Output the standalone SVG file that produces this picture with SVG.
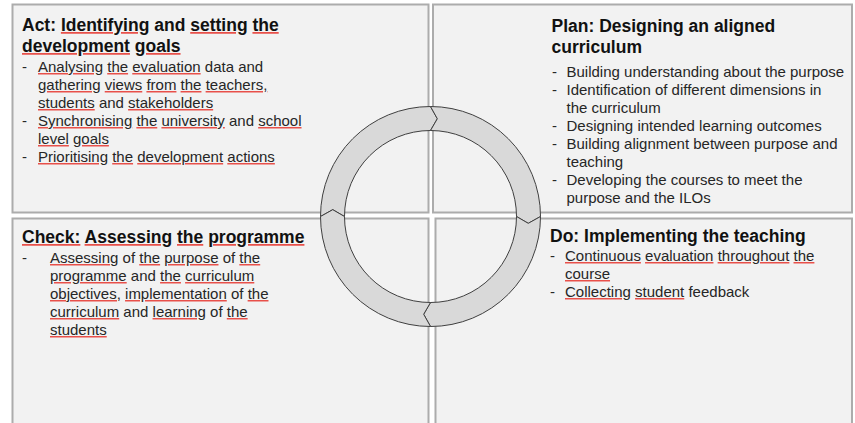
<svg xmlns="http://www.w3.org/2000/svg" width="855" height="423" viewBox="0 0 855 423">
<style>
.box{fill:#f2f2f2;stroke:#acacac;stroke-width:2}
.t{font-family:"Liberation Sans",Arial,sans-serif;font-size:17.5px;font-weight:bold;fill:#111}
.b{font-family:"Liberation Sans",Arial,sans-serif;font-size:15px;fill:#262626}
.s{fill:#e8504a;text-decoration:underline}
.b .s>tspan{fill:#262626}
.t .s>tspan{fill:#111}
.seg{fill:#d9d9d9;stroke:#404040;stroke-width:1;stroke-linejoin:miter}
</style>
<defs>
<path id="arc" d="M-110,0 A110,110 0 0 1 0,-110 L6.84,-97.76 L0,-86 A86,86 0 0 0 -86,0 L-97.76,-6.84 Z"/>
</defs>
<rect width="855" height="423" fill="#ffffff"/>
<g id="act">
<rect class="box" x="12.5" y="4.5" width="416" height="208"/>
<text class="t" x="22" y="31">Act: <tspan class="s"><tspan>Identifying</tspan></tspan> and <tspan class="s"><tspan>setting</tspan></tspan> <tspan class="s"><tspan>the</tspan></tspan></text>
<text class="t" x="22" y="52"><tspan class="s"><tspan>development</tspan></tspan> <tspan class="s"><tspan>goals</tspan></tspan></text>
<text class="b" x="22" y="72">-</text>
<text class="b" x="38" y="72"><tspan class="s"><tspan>Analysing</tspan></tspan> <tspan class="s"><tspan>the</tspan></tspan> <tspan class="s"><tspan>evaluation</tspan></tspan> data and</text>
<text class="b" x="38" y="90"><tspan class="s"><tspan>gathering</tspan></tspan> <tspan class="s"><tspan>views</tspan></tspan> <tspan class="s"><tspan>from</tspan></tspan> <tspan class="s"><tspan>the</tspan></tspan> <tspan class="s"><tspan>teachers,</tspan></tspan></text>
<text class="b" x="38" y="108"><tspan class="s"><tspan>students</tspan></tspan> and <tspan class="s"><tspan>stakeholders</tspan></tspan></text>
<text class="b" x="22" y="126">-</text>
<text class="b" x="38" y="126"><tspan class="s"><tspan>Synchronising</tspan></tspan> <tspan class="s"><tspan>the</tspan></tspan> <tspan class="s"><tspan>university</tspan></tspan> and <tspan class="s"><tspan>school</tspan></tspan></text>
<text class="b" x="38" y="144"><tspan class="s"><tspan>level</tspan></tspan> <tspan class="s"><tspan>goals</tspan></tspan></text>
<text class="b" x="22" y="162">-</text>
<text class="b" x="38" y="162"><tspan class="s"><tspan>Prioritising</tspan></tspan> <tspan class="s"><tspan>the</tspan></tspan> <tspan class="s"><tspan>development</tspan></tspan> <tspan class="s"><tspan>actions</tspan></tspan></text>
</g>
<g id="plan">
<rect class="box" x="433" y="4.5" width="419" height="208"/>
<text class="t" x="551.5" y="31.5">Plan: Designing an aligned</text>
<text class="t" x="551.5" y="53">curriculum</text>
<text class="b" x="552" y="76.5">-</text>
<text class="b" x="566.5" y="76.5">Building understanding about the purpose</text>
<text class="b" x="552" y="94.5">-</text>
<text class="b" x="566.5" y="94.5">Identification of different dimensions in</text>
<text class="b" x="566.5" y="112.5">the curriculum</text>
<text class="b" x="552" y="130.5">-</text>
<text class="b" x="566.5" y="130.5">Designing intended learning outcomes</text>
<text class="b" x="552" y="148.5">-</text>
<text class="b" x="566.5" y="148.5">Building alignment between purpose and</text>
<text class="b" x="566.5" y="166.5">teaching</text>
<text class="b" x="552" y="184.5">-</text>
<text class="b" x="566.5" y="184.5">Developing the courses to meet the</text>
<text class="b" x="566.5" y="202.5">purpose and the ILOs</text>
</g>
<g id="check">
<rect class="box" x="12.5" y="218.5" width="416" height="212"/>
<text class="t" x="22" y="243"><tspan class="s"><tspan>Check:</tspan></tspan> <tspan class="s"><tspan>Assessing</tspan></tspan> <tspan class="s"><tspan>the</tspan></tspan> <tspan class="s"><tspan>programme</tspan></tspan></text>
<text class="b" x="22" y="263">-</text>
<text class="b" x="50" y="263"><tspan class="s"><tspan>Assessing</tspan></tspan> of <tspan class="s"><tspan>the</tspan></tspan> <tspan class="s"><tspan>purpose</tspan></tspan> of <tspan class="s"><tspan>the</tspan></tspan></text>
<text class="b" x="50" y="281"><tspan class="s"><tspan>programme</tspan></tspan> and <tspan class="s"><tspan>the</tspan></tspan> <tspan class="s"><tspan>curriculum</tspan></tspan></text>
<text class="b" x="50" y="299"><tspan class="s"><tspan>objectives,</tspan></tspan> <tspan class="s"><tspan>implementation</tspan></tspan> of <tspan class="s"><tspan>the</tspan></tspan></text>
<text class="b" x="50" y="317"><tspan class="s"><tspan>curriculum</tspan></tspan> and <tspan class="s"><tspan>learning</tspan></tspan> of <tspan class="s"><tspan>the</tspan></tspan></text>
<text class="b" x="50" y="335"><tspan class="s"><tspan>students</tspan></tspan></text>
</g>
<g id="do">
<rect class="box" x="435.5" y="218.5" width="416.5" height="212"/>
<text class="t" x="550" y="242">Do: Implementing the teaching</text>
<text class="b" x="550" y="261">-</text>
<text class="b" x="565" y="261"><tspan class="s"><tspan>Continuous</tspan></tspan> <tspan class="s"><tspan>evaluation</tspan></tspan> <tspan class="s"><tspan>throughout</tspan></tspan> <tspan class="s"><tspan>the</tspan></tspan></text>
<text class="b" x="565" y="279"><tspan class="s"><tspan>course</tspan></tspan></text>
<text class="b" x="550" y="297">-</text>
<text class="b" x="565" y="297"><tspan class="s"><tspan>Collecting</tspan></tspan> <tspan class="s"><tspan>student</tspan></tspan> feedback</text>
</g>
<g id="connectors">
<use href="#arc" class="seg" transform="translate(430.5,216.5)"/>
<use href="#arc" class="seg" transform="translate(430.5,216.5) rotate(90)"/>
<use href="#arc" class="seg" transform="translate(430.5,216.5) rotate(180)"/>
<use href="#arc" class="seg" transform="translate(430.5,216.5) rotate(270)"/>
</g>
</svg>
